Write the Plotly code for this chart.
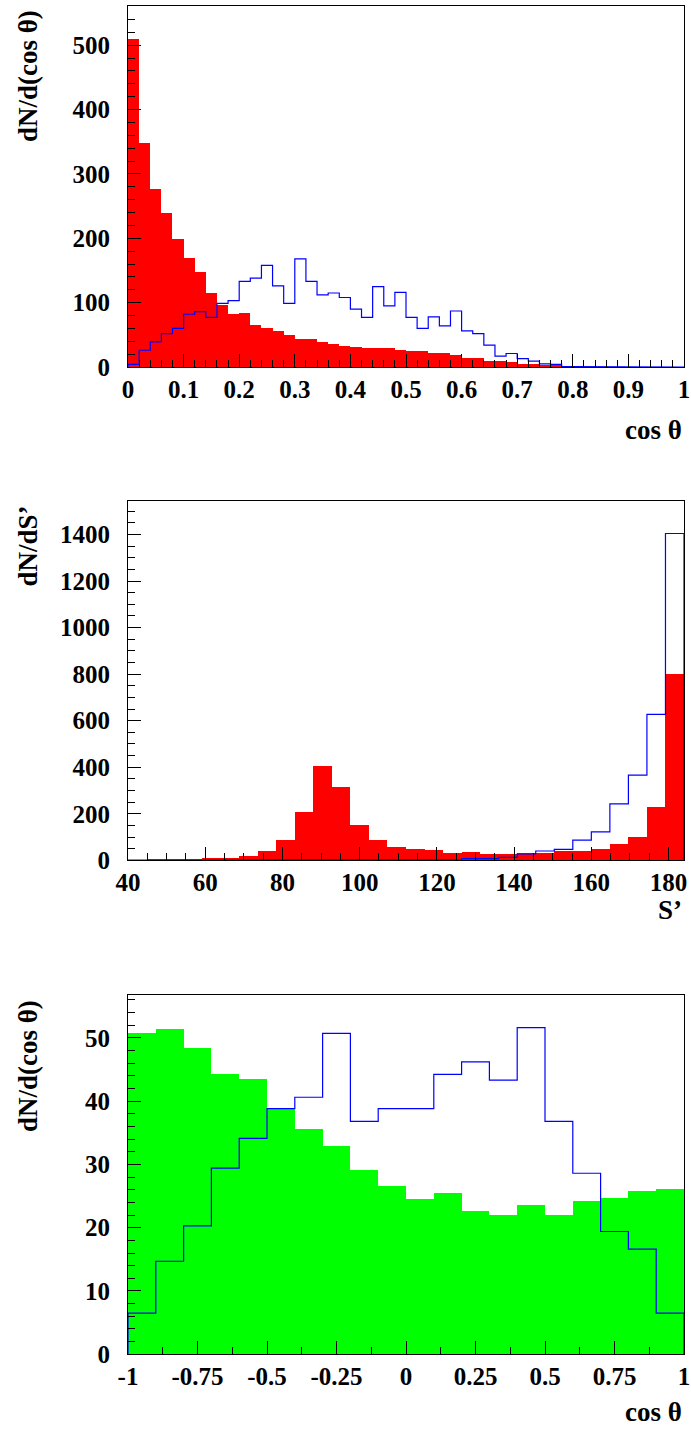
import plotly.graph_objects as go

# ---------------- data ----------------
# Panel 1: cos theta, 50 bins on [0,1]
p1_lo, p1_hi, p1_nb = 0.0, 1.0, 50
p1_red = [510, 348, 276, 240, 199, 170, 147, 115, 96, 82,
          84, 66, 60, 56, 49, 44, 43, 39, 36, 33,
          31, 30, 29, 29, 26, 25, 25, 21, 21, 18,
          14, 14, 10, 10, 8, 5, 4, 2, 2, 1,
          0.5, 0, 0, 0, 0, 0, 0, 0, 0, 0]
p1_blue = [4, 26, 39, 52, 60, 82, 86, 77, 99, 103,
           133, 138, 158, 126, 99, 168, 133, 112, 115, 108,
           90, 77, 125, 95, 116, 77, 60, 78, 64, 87,
           56, 52, 34, 17, 21, 13, 9, 5, 4, 0.5,
           0.5, 0, 0, 0, 0, 0, 0, 0, 0, 0]

# Panel 2: S', 30 bins on [40,184]
p2_lo, p2_hi, p2_nb = 40.0, 184.0, 30
p2_red = [0, 4, 6, 6, 10, 13, 21, 41, 87, 209,
          407, 315, 155, 90, 57, 52, 44, 33, 36, 27,
          30, 33, 34, 40, 41, 50, 70, 102, 229, 803]
p2_blue = [1, 0, 0, 0, 0, 0, 0, 0, 0, 1,
           2, 3, 1, 1, 1, 2, 1, 2, 7, 7,
           13, 27, 40, 47, 87, 122, 242, 366, 627, 1404]

# Panel 3: cos theta, 20 bins on [-1,1]
p3_lo, p3_hi, p3_nb = -1.0, 1.0, 20
p3_green = [50.8, 51.5, 48.5, 44.4, 43.5, 38.9, 35.6, 33.0, 29.1, 26.6,
            24.5, 25.5, 22.7, 22.0, 23.7, 22.0, 24.2, 24.8, 25.8, 26.1]
p3_blue = [6.5, 14.7, 20.3, 29.4, 34.1, 38.8, 40.6, 50.7, 36.8, 38.8,
           38.8, 44.2, 46.2, 43.3, 51.6, 36.8, 28.6, 19.4, 16.6, 6.5]

p1_ticks = [0, 0.1, 0.2, 0.3, 0.4, 0.5, 0.6, 0.7, 0.8, 0.9, 1]
p1_ticktext = ["0", "0.1", "0.2", "0.3", "0.4", "0.5", "0.6", "0.7", "0.8", "0.9", "1"]
p2_ticks = [40, 60, 80, 100, 120, 140, 160, 180]
p2_ticktext = ["40", "60", "80", "100", "120", "140", "160", "180"]
p3_ticks = [-1, -0.75, -0.5, -0.25, 0, 0.25, 0.5, 0.75, 1]
p3_ticktext = ["-1", "-0.75", "-0.5", "-0.25", "0", "0.25", "0.5", "0.75", "1"]

y1_ticks = [0, 100, 200, 300, 400, 500]
y2_ticks = [0, 200, 400, 600, 800, 1000, 1200, 1400]
y3_ticks = [0, 10, 20, 30, 40, 50]

# ---------------- helpers ----------------
W, H = 691, 1431
FONT = "Liberation Serif"


def edges(lo, hi, nb):
    w = (hi - lo) / nb
    return [lo + i * w for i in range(nb + 1)], w


def step_path(lo, hi, vals):
    e, _ = edges(lo, hi, len(vals))
    xs, ys = [e[0]], [0]
    for i, v in enumerate(vals):
        xs += [e[i], e[i + 1]]
        ys += [v, v]
    xs.append(e[-1])
    ys.append(0)
    return xs, ys


def bar_trace(lo, hi, vals, color, xa, ya):
    e, w = edges(lo, hi, len(vals))
    centers = [(e[i] + e[i + 1]) / 2 for i in range(len(vals))]
    return go.Bar(x=centers, y=vals, width=[w] * len(vals),
                  marker=dict(color=color, line=dict(width=0)),
                  xaxis=xa, yaxis=ya, showlegend=False, hoverinfo="skip")


def line_trace(lo, hi, vals, xa, ya):
    xs, ys = step_path(lo, hi, vals)
    return go.Scatter(x=xs, y=ys, mode="lines",
                      line=dict(color="#0000ff", width=1.2),
                      xaxis=xa, yaxis=ya, showlegend=False, hoverinfo="skip")


fig = go.Figure()
fig.add_trace(bar_trace(p1_lo, p1_hi, p1_red, "#ff0000", "x", "y"))
fig.add_trace(line_trace(p1_lo, p1_hi, p1_blue, "x", "y"))
fig.add_trace(bar_trace(p2_lo, p2_hi, p2_red, "#ff0000", "x2", "y2"))
fig.add_trace(line_trace(p2_lo, p2_hi, p2_blue, "x2", "y2"))
fig.add_trace(bar_trace(p3_lo, p3_hi, p3_green, "#00ff00", "x3", "y3"))
fig.add_trace(line_trace(p3_lo, p3_hi, p3_blue, "x3", "y3"))

xdom = [128 / W, 684 / W]
ydoms = [[1 - 367 / H, 1 - 6 / H],
         [1 - 860.3 / H, 1 - 500.7 / H],
         [1 - 1354.3 / H, 1 - 994.7 / H]]

tickfont = dict(family=FONT, size=25, color="black", weight="bold")


def xaxis(dom_idx, rng, tv, tt, minor):
    return dict(domain=xdom, range=rng, anchor=["y", "y2", "y3"][dom_idx],
                tickvals=tv, ticktext=tt, ticks="inside", ticklen=13,
                tickwidth=1, tickcolor="black",
                minor=dict(dtick=minor, tick0=rng[0], ticks="inside", ticklen=7,
                           tickwidth=1, tickcolor="black", showgrid=False),
                showline=True, linecolor="black", linewidth=1, mirror=True,
                showgrid=False, zeroline=False, tickfont=tickfont,
                ticklabelstandoff=0, automargin=False, fixedrange=True)


def yaxis(dom_idx, rng, tv, minor):
    return dict(domain=ydoms[dom_idx], range=rng, anchor=["x", "x2", "x3"][dom_idx],
                tickvals=tv, ticktext=[str(v) for v in tv],
                ticks="inside", ticklen=13, tickwidth=1, tickcolor="black",
                minor=dict(dtick=minor, tick0=0, ticks="inside", ticklen=7,
                           tickwidth=1, tickcolor="black", showgrid=False),
                showline=True, linecolor="black", linewidth=1, mirror=True,
                showgrid=False, zeroline=False, tickfont=tickfont,
                ticklabelstandoff=12, automargin=False, fixedrange=True)


fig.update_layout(
    width=W, height=H,
    margin=dict(l=0, r=0, t=0, b=0),
    paper_bgcolor="white", plot_bgcolor="white",
    barmode="overlay", bargap=0,
    xaxis=xaxis(0, [0, 1], p1_ticks, p1_ticktext, 0.02),
    xaxis2=xaxis(1, [40, 184], p2_ticks, p2_ticktext, 5),
    xaxis3=xaxis(2, [-1, 1], p3_ticks, p3_ticktext, 0.125),
    yaxis=yaxis(0, [0, 561], y1_ticks, 20),
    yaxis2=yaxis(1, [0, 1545], y2_ticks, 50),
    yaxis3=yaxis(2, [0, 56.8], y3_ticks, 2),
    showlegend=False,
)

titlefont = dict(family=FONT, size=27, color="black", weight="bold")
annos = [
    dict(text="cos θ", x=684 / W, y=1 - 430 / H, xanchor="right", yanchor="middle"),
    dict(text="S’", x=684 / W, y=1 - 910 / H, xanchor="right", yanchor="middle"),
    dict(text="cos θ", x=684 / W, y=1 - 1429 / H, xanchor="right", yanchor="bottom"),
    dict(text="dN/d(cos θ)", x=28 / W, y=1 - 8 / H, xanchor="center", yanchor="top", textangle=-90),
    dict(text="dN/dS’", x=28 / W, y=1 - 504 / H, xanchor="center", yanchor="top", textangle=-90),
    dict(text="dN/d(cos θ)", x=28 / W, y=1 - 998 / H, xanchor="center", yanchor="top", textangle=-90),
]
for a in annos:
    fig.add_annotation(xref="paper", yref="paper", showarrow=False, font=titlefont, **a)

fig.write_html("out.html")
